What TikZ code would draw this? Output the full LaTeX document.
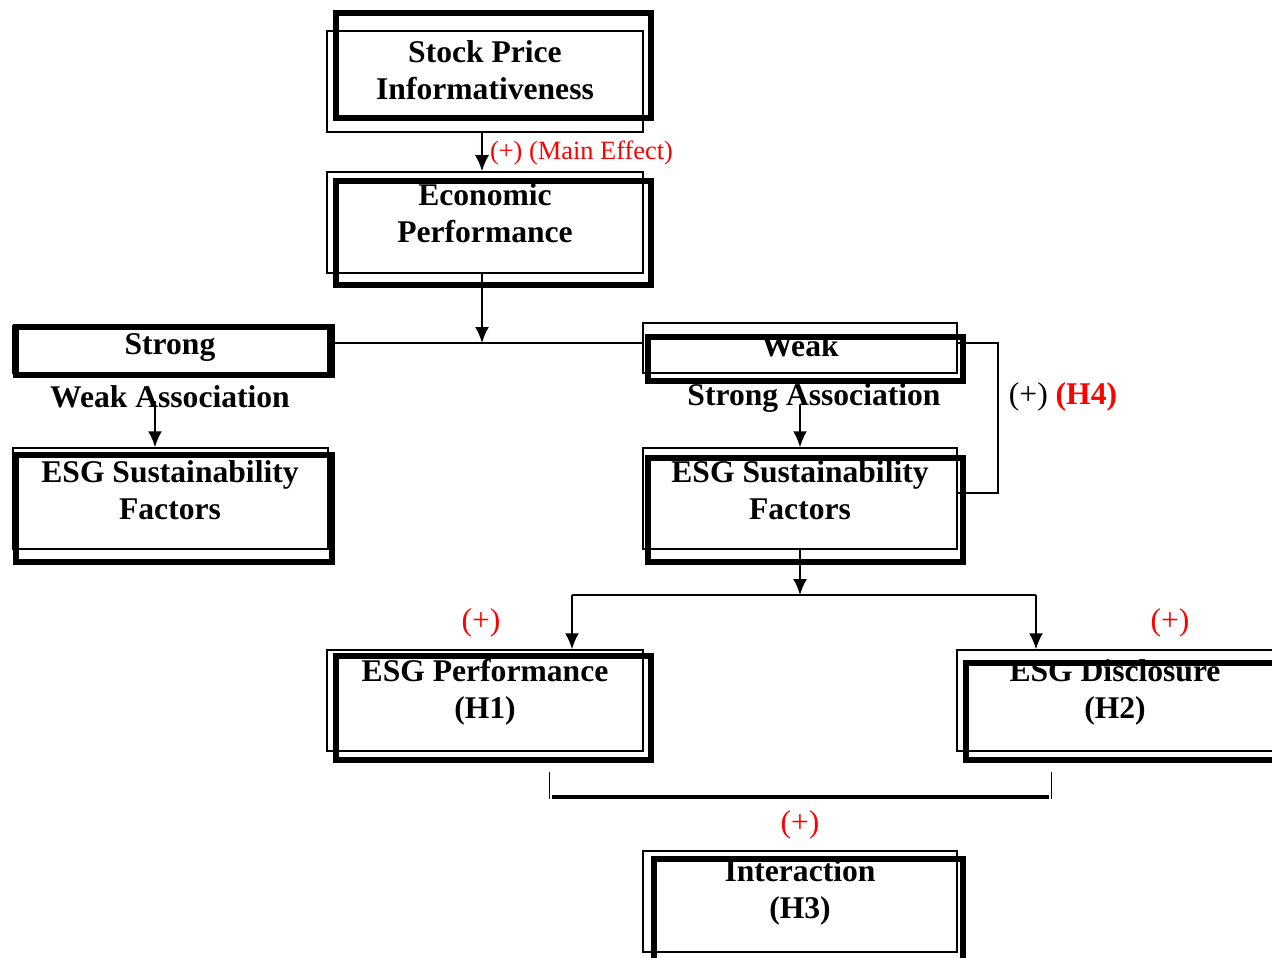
\documentclass[tikz,border=0pt]{standalone}
\usepackage{fontspec}
\setmainfont{Liberation Serif}
\usetikzlibrary{shapes,arrows.meta,positioning}

\begin{document}
\begin{tikzpicture}[x=0.5pt, y=-0.5pt, >={Latex[length=8pt,width=7pt]}, line width=1pt,
  thickbox/.style={draw, line width=3pt, inner sep=0pt},
  thinbox/.style={draw, line width=0.75pt, inner sep=0pt},
  boxtext/.style={align=center, inner sep=0pt, font=\fontsize{15.8}{18.5}\selectfont\bfseries},
  plustext/.style={text=red, inner sep=0pt, font=\fontsize{15.8}{18.5}\selectfont}]
\useasboundingbox (0,0) rectangle (1272,957);
\clip (0,0) rectangle (1272,957);

% frames: thin + thick
\node[thinbox, minimum width=158pt, minimum height=50.5pt] (SPf) at (485,81.5) {};
\node[thickbox, minimum width=157.5pt, minimum height=52.5pt] (SPb) at (493.5,65.5) {};

\node[thinbox, minimum width=158pt, minimum height=50.5pt] (EPf) at (485,222.5) {};
\node[thickbox, minimum width=157.5pt, minimum height=52pt] (EPb) at (493.5,233) {};

\node[thinbox, minimum width=157.5pt, minimum height=23.5pt] (STf) at (170.5,349.5) {};
\node[thickbox, minimum width=158pt, minimum height=24pt] (STb) at (174,351) {};

\node[thinbox, minimum width=157.5pt, minimum height=50.5pt] (ESGLf) at (170.5,498.5) {};
\node[thickbox, minimum width=158pt, minimum height=53.5pt] (ESGLb) at (174,508.5) {};

\node[thinbox, minimum width=157pt, minimum height=25pt] (WKf) at (800,348) {};
\node[thickbox, minimum width=157.5pt, minimum height=22pt] (WKb) at (805.5,359) {};

\node[thinbox, minimum width=157pt, minimum height=50.5pt] (ESGRf) at (800,498.5) {};
\node[thickbox, minimum width=157.5pt, minimum height=52pt] (ESGRb) at (805.5,510) {};

\node[thinbox, minimum width=158pt, minimum height=50.5pt] (PERFf) at (485,700.5) {};
\node[thickbox, minimum width=157.5pt, minimum height=52pt] (PERFb) at (493.5,708) {};

\node[thinbox, minimum width=158pt, minimum height=50.5pt] (DISCf) at (1115,700.5) {};
\node[thickbox, minimum width=157.5pt, minimum height=48.5pt] (DISCb) at (1123.5,711.5) {};

\node[thinbox, minimum width=157pt, minimum height=50.5pt] (INTf) at (800,901.5) {};
\node[thickbox, minimum width=154.5pt, minimum height=52pt] (INTb) at (808.5,911) {};

% texts
\node[boxtext] (SP) at (485,70) {Stock Price\\Informativeness};
\node[boxtext] (EP) at (485,213) {Economic\\Performance};
\node[boxtext] (ST) at (170,348) {Strong};
\node[boxtext] (WA) at (170,397) {Weak Association};
\node[boxtext] (ESGL) at (170,490) {ESG Sustainability\\Factors};
\node[boxtext] (WK) at (800,346) {Weak};
\node[boxtext] (SA) at (814,398) {Strong Association};
\node[boxtext] (ESGR) at (800,490) {ESG Sustainability\\Factors};
\node[boxtext] (PERF) at (485,692.5) {ESG Performance\\(H1)};
\node[boxtext] (DISC) at (1115,692.5) {ESG Disclosure\\(H2)};
\node[boxtext] (INT) at (800,892.5) {Interaction\\(H3)};

\node[text=red, inner sep=0pt, anchor=west, font=\fontsize{13.2}{15}\selectfont] (ME) at (489,153) {(+) (Main Effect)};
\node[inner sep=0pt, font=\fontsize{15.8}{18.5}\selectfont] (H4) at (1063,397) {(+) \textcolor{red}{\bfseries(H4)}};
\node[plustext] (P1) at (481,623) {(+)};
\node[plustext] (P2) at (1170,623) {(+)};
\node[plustext] (P3) at (800,825) {(+)};

% connectors
\coordinate (J) at (482,343);
\coordinate (H4a) at (998,343);
\coordinate (H4b) at (998,493);
\coordinate (PL) at (572,595);
\coordinate (PR) at (1036,595);
\coordinate (BL) at (549,772);
\coordinate (BR) at (1051,772);

\draw[->] (SPf.south -| J) -- (EPf.north -| J);
\draw[->] (EPf.south -| J) -- (J);
\draw (STb.east |- J) -- (WKf.west |- J);
\draw[->] ([xshift=-7.5pt,yshift=4pt]WA.south) -- ([xshift=-7.5pt]WA.south |- ESGLf.north);
\draw[->] ([yshift=4pt]SA.south -| ESGRf.north) -- (ESGRf.north);
\draw (WKf.east |- H4a) -- (H4a) -- (H4b) -- (ESGRf.east |- H4b);
\draw[->] (ESGRf.south) -- (ESGRf.south |- PL);
\draw (PL) -- (PR);
\draw[->] (PL) -- (PL |- PERFf.north);
\draw[->] (PR) -- (PR |- DISCf.north);

\draw[line width=0.5pt] (BL) -- ++(0,27);
\draw[line width=0.5pt] (BR) -- ++(0,27);
\draw[line width=2pt] ([xshift=1.5pt]BL |- 0,797) -- ([xshift=-1pt]BR |- 0,797);

\end{tikzpicture}
\end{document}
